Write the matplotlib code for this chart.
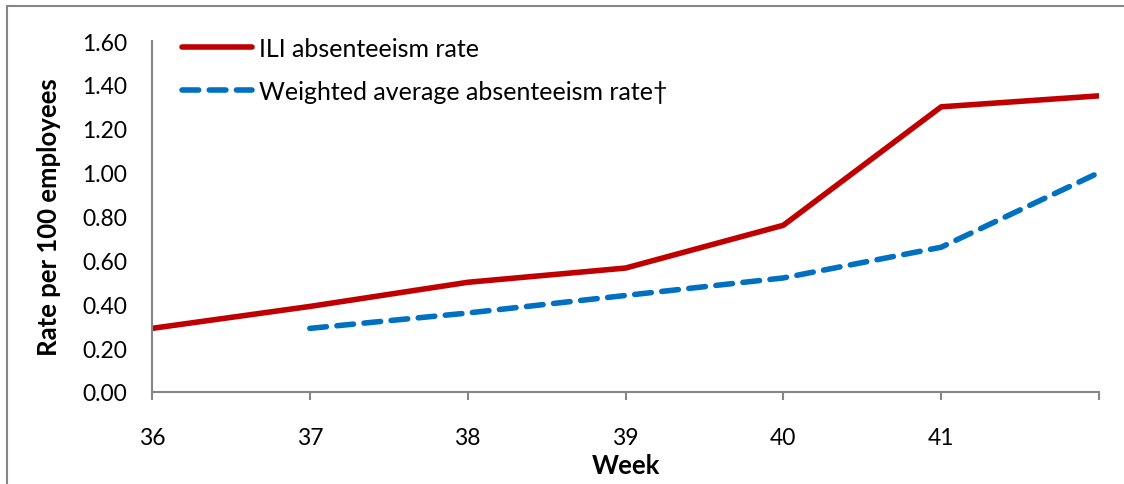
import matplotlib.pyplot as plt
from matplotlib.patches import Rectangle

plt.rcParams['font.family'] = ['Lato', 'DejaVu Sans']

weeks = [36, 37, 38, 39, 40, 41, 42]
iliRate = [0.29, 0.39, 0.50, 0.565, 0.76, 1.30, 1.35]
weightedWeeks = [37, 38, 39, 40, 41, 42]
weightedRate = [0.29, 0.36, 0.44, 0.52, 0.66, 1.00]
xTickLabels = ['36', '37', '38', '39', '40', '41', '']
yTicks = [0.0, 0.2, 0.4, 0.6, 0.8, 1.0, 1.2, 1.4, 1.6]

red = '#C00000'
blue = '#0070C0'
axisGray = '#868686'

fig = plt.figure(figsize=(11.24, 4.85), dpi=100)
ax = fig.add_axes([0.1352, 0.1897, 0.8426, 0.7237])

# outer frame (only left and top edges show)
fig.patches.append(Rectangle((7 / 1124, -0.05), 1.1, 1 - 7 / 485 + 0.05,
                             transform=fig.transFigure, fill=False,
                             edgecolor=axisGray, linewidth=1.5))

ax.plot(weeks, iliRate, color=red, linewidth=4, solid_capstyle='round',
        label='ILI absenteeism rate')
ax.plot(weightedWeeks, weightedRate, color=blue, linewidth=4,
        dashes=(3, 1.9), dash_capstyle='round',
        label='Weighted average absenteeism rate\u2020')

ax.set_xlim(36, 42)
ax.set_ylim(0, 1.6)
ax.set_xticks(weeks)
ax.set_xticklabels(xTickLabels)
ax.set_yticks(yTicks)
ax.set_yticklabels(['%.2f' % v for v in yTicks])
ax.tick_params(axis='y', labelsize=16.5, colors='black', length=0, pad=18)
ax.tick_params(axis='x', labelsize=16.5, length=6, color=axisGray, width=1.5,
               pad=19)

for side in ['top', 'right']:
    ax.spines[side].set_visible(False)
for side in ['left', 'bottom']:
    ax.spines[side].set_color(axisGray)
    ax.spines[side].set_linewidth(1.5)

ax.set_ylabel('Rate per 100 employees', fontsize=18.5, fontweight='bold', labelpad=15)
ax.set_xlabel('Week', fontsize=18.5, fontweight='bold', labelpad=4)

ax.legend(loc='upper left', frameon=False, fontsize=18, handlelength=2.8,
          handletextpad=0.25, labelspacing=0.8, borderaxespad=0.0, borderpad=0.0,
          bbox_to_anchor=(0.032, 1.011))

fig.savefig('out.png', dpi=100)
